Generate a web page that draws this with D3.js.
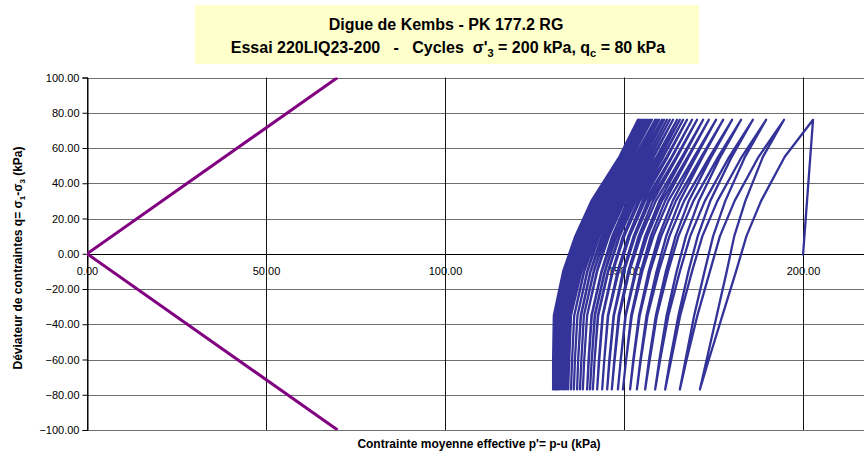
<!DOCTYPE html>
<html>
<head>
<meta charset="utf-8">
<script src="https://cdn.jsdelivr.net/npm/d3@7"></script>
<style>
  body { margin: 0; background: #fff; }
  svg { display: block; font-family: "Liberation Sans", Arial, sans-serif; }
</style>
</head>
<body>
<svg id="chart" width="864" height="462"></svg>
<script>
// axis ticks
const xTicks = [0, 50, 100, 150, 200]
const yTicks = [-100, -80, -60, -40, -20, 0, 20, 40, 60, 80, 100]

// failure lines (p', q)
const lineP = [0, 70]
const upperQ = [0, 100]
const lowerQ = [0, -100]

// stress path: q levels where p' was read on each branch
const qLevels = [76, 55, 30, 10, -10, -35, -60, -77]

// consolidation point up to the first peak
const startP = [200.0, 202.8]
const startQ = [-1, 76]

// unloading branches (top -> bottom), p' at each q level
const unloadP = [
  [202.8, 194.9, 188.3, 184.2, 181.3, 177.5, 173.7, 171.2],
  [194.7, 187.6, 180.9, 176.8, 174.0, 170.5, 167.5, 165.6],
  [189.7, 182.9, 176.1, 171.9, 169.0, 165.7, 163.2, 161.5],
  [186.0, 179.4, 172.6, 168.5, 165.6, 162.4, 160.1, 158.7],
  [182.7, 176.3, 169.4, 165.2, 162.3, 159.2, 157.2, 155.9],
  [180.2, 173.9, 166.8, 162.7, 159.7, 156.6, 154.7, 153.6],
  [177.7, 171.6, 164.5, 160.4, 157.3, 154.4, 152.7, 151.7],
  [175.7, 169.6, 162.4, 158.2, 155.1, 152.2, 150.6, 149.7],
  [173.7, 167.8, 160.6, 156.5, 153.4, 150.5, 149.1, 148.3],
  [172.1, 166.2, 158.9, 154.7, 151.5, 148.7, 147.4, 146.6],
  [170.4, 164.6, 157.3, 153.1, 150.0, 147.2, 146.0, 145.3],
  [169.0, 163.3, 155.9, 151.6, 148.5, 145.6, 144.5, 143.9],
  [167.6, 161.9, 154.4, 150.1, 146.9, 144.1, 143.1, 142.5],
  [166.5, 160.8, 153.2, 148.8, 145.6, 142.8, 141.8, 141.3],
  [165.6, 159.9, 152.3, 147.9, 144.7, 141.9, 141.0, 140.5],
  [164.8, 159.1, 151.5, 147.1, 143.8, 141.0, 140.2, 139.7],
  [163.7, 158.0, 150.3, 145.8, 142.5, 139.7, 138.9, 138.5],
  [162.8, 157.2, 149.4, 144.9, 141.6, 138.8, 138.1, 137.7],
  [162.0, 156.4, 148.6, 144.1, 140.7, 138.0, 137.2, 136.9],
  [161.2, 155.6, 147.7, 143.1, 139.8, 137.0, 136.3, 136.0],
  [160.6, 154.9, 146.9, 142.3, 138.9, 136.1, 135.5, 135.2],
  [159.8, 154.1, 146.1, 141.5, 138.1, 135.2, 134.7, 134.4],
  [159.2, 153.5, 145.5, 140.8, 137.4, 134.6, 134.0, 133.8],
  [158.7, 153.0, 144.9, 140.2, 136.8, 133.9, 133.4, 133.2],
  [157.8, 152.2, 144.2, 139.5, 136.1, 133.3, 132.9, 132.7],
  [157.3, 151.7, 143.6, 138.9, 135.5, 132.7, 132.3, 132.1],
  [156.7, 151.1, 143.0, 138.4, 134.9, 132.1, 131.7, 131.6],
  [156.1, 150.6, 142.6, 137.9, 134.5, 131.8, 131.4, 131.3],
  [155.6, 150.2, 142.1, 137.5, 134.1, 131.4, 131.1, 131.0],
  [155.0, 149.6, 141.7, 137.1, 133.7, 131.0, 130.7, 130.7],
  [154.5, 149.2, 141.3, 136.7, 133.3, 130.7, 130.4, 130.4],
  [154.2, 148.9, 141.0, 136.5, 133.1, 130.5, 130.2, 130.2],
  [153.9, 148.7, 140.9, 136.4, 133.0, 130.4, 130.2, 130.2]
]

// reloading branches, listed top -> bottom (drawn bottom -> top)
const reloadP = [
  [194.7, 188.8, 183.9, 180.8, 178.7, 175.9, 173.1, 171.2],
  [189.7, 183.8, 178.3, 174.9, 172.5, 169.6, 167.2, 165.6],
  [186.0, 180.1, 174.1, 170.6, 168.0, 165.2, 162.9, 161.5],
  [182.7, 176.9, 170.9, 167.3, 164.7, 161.9, 159.9, 158.7],
  [180.2, 174.4, 168.1, 164.4, 161.7, 158.9, 157.0, 155.9],
  [177.7, 172.0, 165.6, 161.8, 159.1, 156.3, 154.6, 153.6],
  [175.7, 170.1, 163.6, 159.7, 156.9, 154.2, 152.6, 151.7],
  [173.7, 168.1, 161.5, 157.5, 154.7, 152.0, 150.6, 149.7],
  [172.1, 166.6, 159.9, 155.9, 153.1, 150.4, 149.1, 148.3],
  [170.4, 164.9, 158.1, 154.1, 151.2, 148.5, 147.3, 146.6],
  [169.0, 163.5, 156.7, 152.7, 149.7, 147.1, 145.9, 145.3],
  [167.6, 162.2, 155.2, 151.2, 148.2, 145.5, 144.5, 143.9],
  [166.5, 161.0, 153.9, 149.7, 146.7, 144.0, 143.0, 142.5],
  [165.6, 160.1, 152.8, 148.6, 145.5, 142.7, 141.8, 141.3],
  [164.8, 159.3, 152.0, 147.7, 144.6, 141.8, 141.0, 140.5],
  [163.7, 158.3, 151.0, 146.7, 143.7, 140.9, 140.1, 139.7],
  [162.8, 157.3, 149.9, 145.5, 142.4, 139.7, 138.9, 138.5],
  [162.0, 156.5, 149.0, 144.7, 141.5, 138.8, 138.1, 137.7],
  [161.2, 155.7, 148.2, 143.8, 140.6, 137.9, 137.2, 136.9],
  [160.6, 155.1, 147.4, 142.9, 139.7, 137.0, 136.3, 136.0],
  [159.8, 154.3, 146.6, 142.1, 138.8, 136.1, 135.5, 135.2],
  [159.2, 153.6, 145.8, 141.3, 138.0, 135.2, 134.6, 134.4],
  [158.7, 153.1, 145.3, 140.7, 137.3, 134.5, 134.0, 133.8],
  [157.8, 152.3, 144.5, 140.0, 136.6, 133.9, 133.4, 133.2],
  [157.3, 151.8, 143.9, 139.4, 136.0, 133.3, 132.8, 132.7],
  [156.7, 151.2, 143.3, 138.7, 135.4, 132.7, 132.2, 132.1],
  [156.1, 150.7, 142.7, 138.2, 134.8, 132.1, 131.7, 131.6],
  [155.6, 150.2, 142.3, 137.8, 134.4, 131.8, 131.4, 131.3],
  [155.0, 149.7, 141.9, 137.4, 134.0, 131.4, 131.1, 131.0],
  [154.5, 149.2, 141.5, 137.0, 133.7, 131.0, 130.7, 130.7],
  [154.2, 149.0, 141.1, 136.6, 133.3, 130.7, 130.4, 130.4],
  [153.9, 148.7, 140.9, 136.4, 133.1, 130.5, 130.2, 130.2]
]

const svg = d3.select('#chart')

const x = d3.scaleLinear().domain([0, 250]).range([87, 982])
const y = d3.scaleLinear().domain([-100, 100]).range([430, 77.5])

// title box
svg.append('rect')
  .attr('x', 195).attr('y', 5)
  .attr('width', 504).attr('height', 59)
  .attr('fill', '#ffffcc')

svg.append('text')
  .attr('x', 446).attr('y', 30)
  .attr('text-anchor', 'middle')
  .attr('font-size', '16px').attr('font-weight', 'bold')
  .text('Digue de Kembs - PK 177.2 RG')

const t2 = svg.append('text')
  .attr('x', 448).attr('y', 53)
  .attr('text-anchor', 'middle')
  .attr('font-size', '16px').attr('font-weight', 'bold')
  .attr('xml:space', 'preserve')
t2.append('tspan').text('Essai 220LIQ23-200   -   Cycles  σ\'')
t2.append('tspan').attr('font-size', '11px').attr('dy', 4).text('3')
t2.append('tspan').attr('dy', -4).text(' = 200 kPa, q')
t2.append('tspan').attr('font-size', '11px').attr('dy', 4).text('c')
t2.append('tspan').attr('dy', -4).text(' = 80 kPa')

// grid
svg.append('g')
  .selectAll('line')
  .data(yTicks)
  .enter()
  .append('line')
    .attr('x1', x(0)).attr('x2', 864)
    .attr('y1', d => Math.round(y(d)) + 0.5).attr('y2', d => Math.round(y(d)) + 0.5)
    .attr('stroke', d => d === 0 ? '#000' : '#6e6e6e')
    .attr('stroke-width', 1)

svg.append('g')
  .selectAll('line')
  .data(xTicks)
  .enter()
  .append('line')
    .attr('x1', d => Math.round(x(d)) + 0.5).attr('x2', d => Math.round(x(d)) + 0.5)
    .attr('y1', y(100)).attr('y2', y(-100))
    .attr('stroke', '#111')
    .attr('stroke-width', 1)

// y axis
const yAxis = svg.append('g')
  .attr('transform', 'translate(' + (Math.round(x(0)) + 0.5) + ',0)')
  .call(d3.axisLeft(y).tickValues(yTicks).tickSize(5).tickPadding(3).tickFormat(d3.format('.2f')))
yAxis.select('.domain').attr('stroke', '#000')
yAxis.selectAll('text').attr('font-size', '11px').attr('font-family', '"Liberation Sans", Arial, sans-serif').attr('fill', '#000')

// x axis on q = 0
const xAxis = svg.append('g')
  .attr('transform', 'translate(0,' + (Math.round(y(0)) + 0.5) + ')')
  .call(d3.axisBottom(x).tickValues(xTicks).tickSize(5).tickPadding(8).tickFormat(d3.format('.2f')))
xAxis.select('.domain').remove()
xAxis.selectAll('text').attr('font-size', '11px').attr('font-family', '"Liberation Sans", Arial, sans-serif').attr('fill', '#000')

// axis titles
svg.append('text')
  .attr('transform', 'translate(22,258)rotate(-90)')
  .attr('text-anchor', 'middle')
  .attr('font-size', '12px').attr('font-weight', 'bold')
  .call(t => {
    t.append('tspan').text('Déviateur de contraintes q= σ')
    t.append('tspan').attr('font-size', '8px').attr('dy', 3).text('1')
    t.append('tspan').attr('dy', -3).text('-σ')
    t.append('tspan').attr('font-size', '8px').attr('dy', 3).text('3')
    t.append('tspan').attr('dy', -3).text(' (kPa)')
  })

svg.append('text')
  .attr('x', 479).attr('y', 448)
  .attr('text-anchor', 'middle')
  .attr('font-size', '12px').attr('font-weight', 'bold')
  .text("Contrainte moyenne effective p'= p-u (kPa)")

// clip to plot area
svg.append('clipPath').attr('id', 'plot-clip')
  .append('rect')
    .attr('x', x(0)).attr('y', y(100))
    .attr('width', 864 - x(0)).attr('height', y(-100) - y(100))

const plot = svg.append('g').attr('clip-path', 'url(#plot-clip)')

const line = d3.line()
  .x(d => x(d[0]))
  .y(d => y(d[1]))

// stress path
let pathPts = startP.map((p, i) => [p, startQ[i]])
unloadP.forEach((row, i) => {
  row.forEach((p, j) => pathPts.push([p, qLevels[j]]))
  if (reloadP[i]) {
    for (let j = qLevels.length - 1; j >= 0; j--) pathPts.push([reloadP[i][j], qLevels[j]])
  }
})

plot.append('path')
  .datum(pathPts)
  .attr('d', line)
  .attr('fill', 'none')
  .attr('stroke', '#333399')
  .attr('stroke-width', 2.3)
  .attr('stroke-linejoin', 'round')

// failure lines
plot.selectAll('.env')
  .data([upperQ, lowerQ])
  .enter()
  .append('path')
    .attr('class', 'env')
    .attr('d', qs => line(lineP.map((p, i) => [p, qs[i]])))
    .attr('fill', 'none')
    .attr('stroke', '#800080')
    .attr('stroke-width', 3)
</script>
</body>
</html>
